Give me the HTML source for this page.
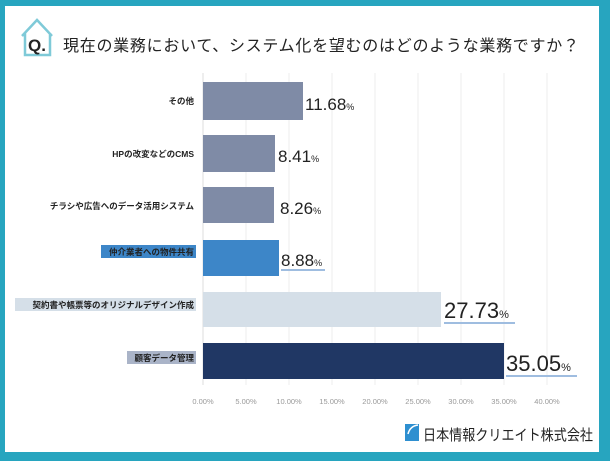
<!DOCTYPE html><html><head><meta charset="utf-8"><style>
body{margin:0;width:610px;height:461px;background:#27a5bf;position:relative;overflow:hidden;font-family:"Liberation Sans","Noto Sans CJK JP",sans-serif}
#in{position:absolute;left:5px;top:6px;width:594px;height:446px;background:#fff}
</style></head><body><div id="in"></div>
<svg width="610" height="461" style="position:absolute;left:0;top:0">
<path d="M22 36 L37 20 L52 36 M25 33 V55 H50 V33" fill="none" stroke="#7fcad8" stroke-width="2.5"/>
<text x="37" y="51" font-size="17" font-weight="bold" text-anchor="middle" font-family="Liberation Sans" fill="#222">Q.</text>
<text x="63" y="51" font-size="16" textLength="516" font-family="Liberation Sans,Noto Sans CJK JP,sans-serif" fill="#222">現在の業務において、システム化を望むのはどのような業務ですか？</text>
<g stroke="#ececec" stroke-width="1">
<line x1="246" y1="73" x2="246" y2="385"/><line x1="289" y1="73" x2="289" y2="385"/><line x1="332" y1="73" x2="332" y2="385"/><line x1="375" y1="73" x2="375" y2="385"/><line x1="418" y1="73" x2="418" y2="385"/><line x1="461" y1="73" x2="461" y2="385"/><line x1="504" y1="73" x2="504" y2="385"/><line x1="547" y1="73" x2="547" y2="385"/></g>
<line x1="203" y1="73" x2="203" y2="385" stroke="#ddd"/>
<g>
<rect x="203" y="82" width="100" height="38" fill="#7f8ba6"/>
<rect x="203" y="135" width="72" height="37" fill="#7f8ba6"/>
<rect x="203" y="187" width="71" height="36" fill="#7f8ba6"/>
<rect x="203" y="240" width="76" height="36" fill="#3d86c8"/>
<rect x="203" y="292" width="238" height="35" fill="#d5dfe8"/>
<rect x="203" y="343" width="301" height="36" fill="#203764"/>
</g>
<g font-family="Liberation Sans,sans-serif" fill="#222" font-size="17">
<text x="305" y="110">11.68<tspan font-size="9">%</tspan></text>
<text x="278" y="162">8.41<tspan font-size="9">%</tspan></text>
<text x="280" y="214">8.26<tspan font-size="9">%</tspan></text>
<text x="281" y="266">8.88<tspan font-size="9">%</tspan></text>
<text x="444" y="318" font-size="22">27.73<tspan font-size="11">%</tspan></text>
<text x="506" y="371" font-size="22">35.05<tspan font-size="11">%</tspan></text>
</g>
<g stroke="#9fbde0" stroke-width="2"><line x1="281" y1="270" x2="325" y2="270"/><line x1="444" y1="323" x2="515" y2="323"/><line x1="506" y1="376" x2="577" y2="376"/></g>
<rect x="101" y="245" width="95" height="13" fill="#3d86c8"/>
<rect x="15" y="298" width="181" height="13" fill="#d5dfe8"/>
<rect x="127" y="351" width="69" height="13" fill="#aab4c8"/>
<g font-family="Liberation Sans,Noto Sans CJK JP,sans-serif" font-size="8.5" font-weight="bold" fill="#222" text-anchor="end">
<text x="194" y="104">その他</text>
<text x="194" y="157">HPの改変などのCMS</text>
<text x="194" y="209">チラシや広告へのデータ活用システム</text>
<text x="194" y="255">仲介業者への物件共有</text>
<text x="194" y="308">契約書や帳票等のオリジナルデザイン作成</text>
<text x="194" y="361">顧客データ管理</text>
</g>
<g font-family="Liberation Sans,sans-serif" font-size="7.5" fill="#999" text-anchor="middle">
<text x="203" y="404">0.00%</text><text x="246" y="404">5.00%</text><text x="289" y="404">10.00%</text><text x="332" y="404">15.00%</text><text x="375" y="404">20.00%</text><text x="418" y="404">25.00%</text><text x="461" y="404">30.00%</text><text x="504" y="404">35.00%</text><text x="547" y="404">40.00%</text></g>
<rect x="405" y="424" width="14" height="17" fill="#2e8fd0"/>
<path d="M408 434 Q410 426 418 425" stroke="#fff" stroke-width="1.5" fill="none"/>
<text x="423" y="440" font-size="15" textLength="170" lengthAdjust="spacingAndGlyphs" font-family="Liberation Sans,Noto Sans CJK JP,sans-serif" fill="#222">日本情報クリエイト株式会社</text>
</svg></body></html>
